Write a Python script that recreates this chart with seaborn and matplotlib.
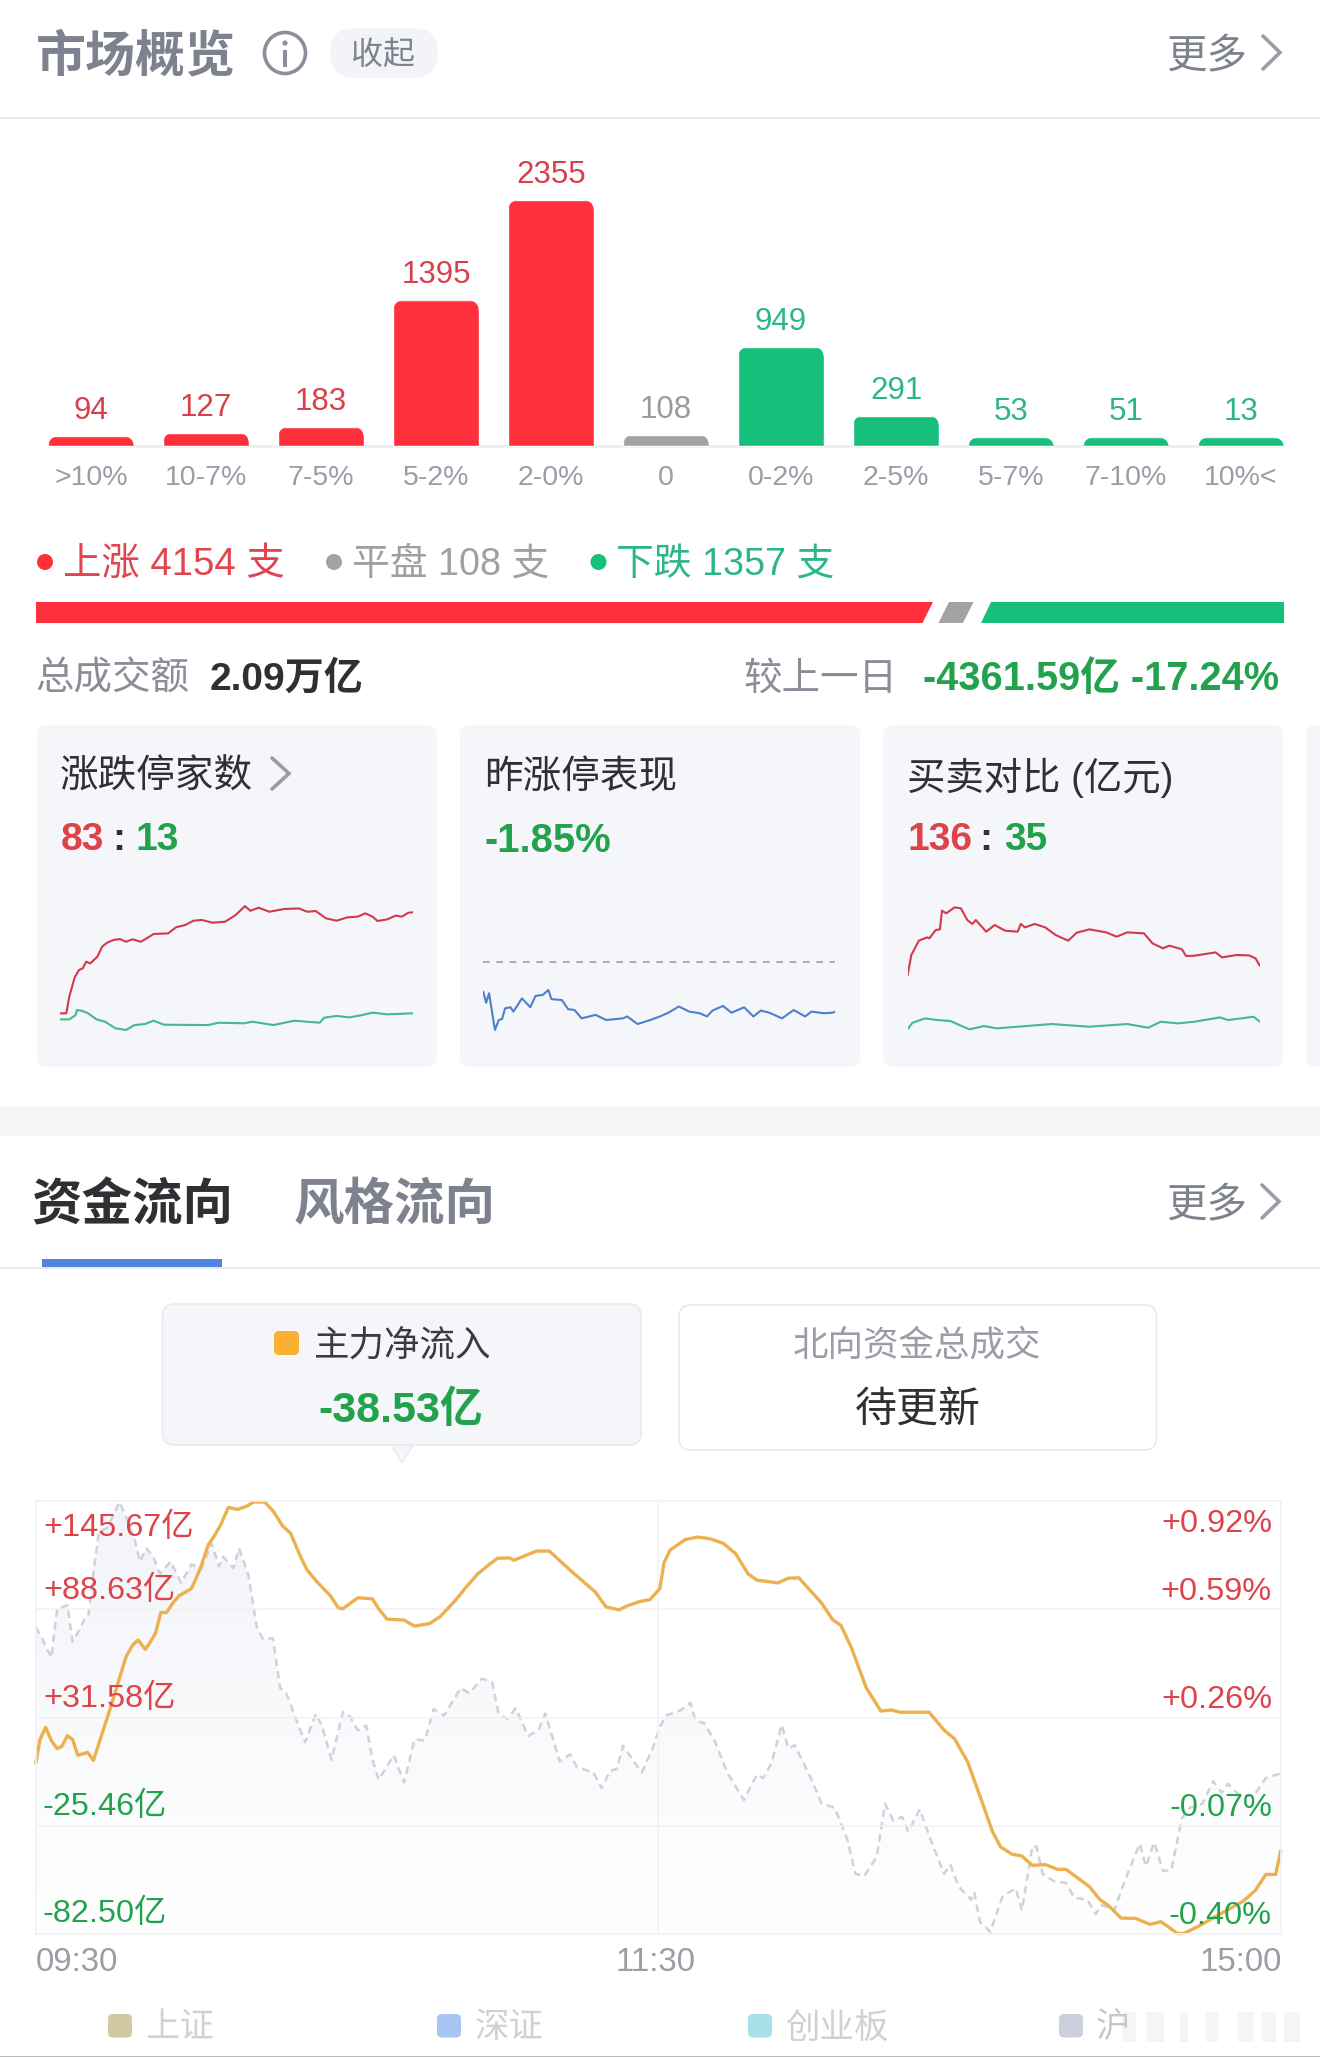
import matplotlib
matplotlib.use("Agg")
import numpy as np
import matplotlib.pyplot as plt
import seaborn as sns
from matplotlib.colors import LinearSegmentedColormap
from matplotlib.patches import Circle, FancyBboxPatch, Polygon, Rectangle

# ---- data ----
move_labels = [">10%", "10-7%", "7-5%", "5-2%", "2-0%", "0", "0-2%", "2-5%", "5-7%", "7-10%", "10%<"]
move_counts = [94, 127, 183, 1395, 2355, 108, 949, 291, 53, 51, 13]
breadth_counts = [4154, 108, 1357]

limit_up_t = [0, 4.3, 6.3, 10, 12.9, 15.5, 17.8, 20.6, 25.5, 28.7, 32.1, 36.4, 40.7, 45, 49.3, 55.1, 60.8, 63.7, 73.7, 78.9, 85.2, 90.9, 96.6, 103.8, 112.4, 119.6, 125.9, 129.6, 135.3, 142.5, 152.5, 162.6, 168.3, 174.1, 181.2, 188.4, 195.6, 202.7, 207.9, 212.8, 216.2, 222.8, 228.5, 232.8, 237.1, 240]
limit_up = [13, 13, 24.5, 37.9, 43, 44.2, 48.8, 47.6, 52.3, 59.2, 62, 63.8, 64.5, 62.6, 64.3, 62.6, 66.1, 68, 68.4, 72.6, 74.2, 77.2, 77.7, 75.8, 76.5, 81.1, 87.3, 84.1, 86.2, 83.4, 85.3, 85.7, 83.4, 83.9, 78.8, 77.2, 79.5, 80, 82.3, 80, 77, 78.1, 80.7, 80, 82.7, 83]
limit_down_t = [0, 6.3, 10.6, 11.5, 14.9, 19.2, 24.9, 30.7, 37.8, 45, 50.8, 57.9, 63.7, 70.8, 100.9, 108.1, 125.3, 131, 145.4, 159.7, 176.9, 179.8, 188.4, 197, 205.6, 212.8, 222.8, 240]
limit_down = [8.8, 8.8, 11.8, 15.3, 14.8, 13, 8.8, 7.2, 2.6, 1.5, 4.9, 5.6, 7.9, 5.1, 4.9, 6.5, 6.1, 7.2, 4.9, 7.9, 6.5, 10, 11.2, 10.2, 11.8, 13.5, 12.3, 13]

yday_t = [0, 2, 4, 8, 10.6, 12.9, 14.9, 18.6, 20.6, 26.4, 32.1, 35.6, 40.7, 44.4, 46.5, 53.6, 57.9, 62.2, 67.1, 76.6, 83.7, 95.2, 98.1, 105.2, 113.8, 120.4, 126.2, 133.3, 140.5, 147.7, 152.5, 156.3, 163.4, 169.2, 177.8, 184.1, 189.2, 195, 203.6, 211.6, 219.4, 223.7, 232.3, 238, 240]
yday_pct = [-1.11, -1.52, -1.17, -2.53, -2.16, -2.12, -1.73, -1.69, -1.85, -1.36, -1.69, -1.27, -1.23, -1.05, -1.39, -1.42, -1.76, -1.79, -2.10, -1.97, -2.16, -2.10, -2.03, -2.31, -2.16, -2.03, -1.89, -1.66, -1.85, -1.91, -2.03, -1.81, -1.64, -1.89, -1.69, -2.03, -1.81, -1.89, -2.10, -1.79, -2.03, -1.85, -1.91, -1.89, -1.85]

buy_t = [0, 2.6, 7.7, 13.5, 14.9, 19.2, 22.1, 23.5, 26.4, 32.1, 36.4, 40.7, 44.2, 46.5, 53.6, 59.4, 66.5, 75.1, 77.1, 80, 86.6, 93.8, 100.9, 109.5, 115.3, 123.9, 135.3, 142.5, 149.7, 161.1, 166.9, 174, 178.4, 187, 189.8, 195.6, 209.9, 214.2, 224.2, 232.8, 237.1, 240]
buy = [118, 155.2, 181.1, 187.1, 185.3, 200.3, 201.5, 235.2, 230.4, 241.2, 239.4, 218.4, 211.2, 218.4, 197.3, 209.3, 199.1, 197.3, 211.2, 205.1, 211.2, 205.1, 191.3, 181.1, 195.5, 201.5, 196.1, 188.3, 196.1, 194.3, 176.3, 167.3, 172.1, 165.5, 153.4, 154, 160, 151, 155.2, 154.6, 149.2, 136]
sell_t = [0, 3.4, 12, 20.6, 29.2, 42.2, 52.2, 60.8, 75.1, 98.1, 123.9, 149.7, 164, 172.6, 184.1, 195.6, 212.8, 218.5, 235.7, 240]
sell = [21.2, 33.2, 41, 38, 36.2, 21.2, 27.2, 23, 26, 30.8, 26, 30.8, 24.2, 35, 32, 35, 42.8, 38, 44, 35]

flow_t = [0, 0.8, 1.9, 3, 4.1, 5, 6.1, 7.1, 8.1, 10, 11.1, 13, 14.6, 16.2, 17.4, 18.7, 19.7, 21.1, 22.1, 23.1, 24.1, 25.2, 26.4, 27.6, 30, 31.6, 33.3, 34.5, 35.7, 37.1, 38.9, 40.6, 42, 44.1, 45.8, 47.6, 49.1, 51.1, 52.3, 54.4, 56.8, 58.3, 59.2, 62.1, 64.9, 66.1, 67.7, 71, 73, 75.9, 77.9, 80.7, 83.2, 85.2, 87.2, 89, 91.3, 92.2, 96.5, 99, 103.4, 107.9, 109.9, 112.4, 114, 116.4, 118.4, 120.3,
          121.1, 122.3, 125.2, 127.6, 130, 132.5, 134.9, 137.3, 139, 143, 145.1, 147.1, 151.5, 153.6, 155.2, 157.2, 160.1, 162.9, 164.9, 166.6, 172.2, 175.1, 177.1, 179.6, 182.8, 184.4, 186, 188.1, 190.1, 192.1, 194.6, 197, 198.6, 203.1, 205.1, 206.7, 209.2, 212, 214.8, 216.9, 220.1, 221.3, 223.8, 228.2, 232.7, 235.1, 237.1, 239, 240]
flow = [7.4, 20, 26.4, 19.4, 15.2, 16.3, 22, 20, 11.7, 13.2, 9, 24.9, 38.5, 53, 63.7, 69.9, 72.5, 67.6, 71.5, 76.3, 87, 87, 91.9, 95.8, 99.6, 109.4, 123, 127.8, 133.6, 142.4, 141.4, 143, 145.3, 145.3, 140.4, 132.6, 128.8, 116.1, 109.4, 102.6, 95.8, 89.5, 89, 94.8, 94.2, 89, 83.5, 83, 79.8, 81.2, 84.7, 92.8, 101.2, 107.4, 111.9, 115.6, 115.8, 114.6, 119.4, 119.4, 108.4, 97.7, 90, 88.4, 90.5, 92.8, 93.8, 99.6,
        113.2, 120, 125.5, 126.8, 125.9, 123.5, 118.1, 107.4, 104.1, 102.6, 105.1, 105.3, 91.9, 83.2, 80.2, 68.6, 47.2, 35, 35.6, 34.4, 34.4, 24.9, 20.4, 8.4, -15.9, -28.5, -36.7, -40.4, -41.5, -46.4, -46, -48.5, -48.5, -57.6, -64.4, -67.4, -74.2, -74.4, -77.5, -76.1, -82.4, -82.3, -79, -72.2, -65.4, -59.6, -51.2, -51.2, -38.53]

index_t = [0, 1.2, 3, 4.1, 6.1, 7.1, 8.1, 9.3, 10.1, 11.4, 12.2, 13.8, 16.1, 17.4, 19.1, 20.1, 21.3, 22.7, 23.9, 26, 28, 30, 32, 33.9, 35.3, 36.1, 38.1, 39.2, 41, 42.6, 43.8, 45.7, 47.1, 48.3, 49.9, 51.9, 54, 55.2, 57, 59.2, 60.4, 62.1, 63.7, 64.9, 66.1, 69, 71, 73, 75, 76.7, 78.7, 81.9, 83.6, 86, 88, 89.2, 90.9, 92.5, 94.9, 96.9, 98.2, 101, 103, 104.3, 107.5, 109.1, 110.7, 112, 113.2, 116.8, 118.9, 120.3,
           121.5, 124.4, 126.2, 127.2, 128.8, 130.9, 133.3, 136.5, 139, 140.2, 141.8, 143.8, 145.1, 146.3, 149.1, 151.5, 154, 156.4, 158, 159.7, 162.1, 163.7, 165.3, 167, 168.2, 170.4, 172.7, 175.1, 176.3, 177.9, 180.3, 180.9, 182, 184, 186.4, 188.9, 190.1, 192.1, 192.9, 194.1, 196.2, 198.6, 200.2, 202.7, 204.3, 205.5, 207.9, 209.9, 212.8, 214, 215.6, 217.3, 218.9, 220.9, 222.5, 224.9, 227, 228.6, 229.8, 231.9, 234.7, 237.1, 240]
index_pct = [.536, .502, .443, .592, .603, .491, .519, .558, .569, .738, .828, .839, .918, .873, .800, .736, .777, .749, .699, .736, .671, .727, .716, .792, .721, .751, .716, .777, .693, .536, .499, .502, .350, .334, .266, .185, .272, .232, .131, .277, .266, .221, .235, .131, .070, .145, .062, .193, .190, .286, .266, .350, .334, .379, .367, .272, .255, .289, .204, .221, .272, .126, .148, .109, .092, .044, .098, .103, .174, .092, .165, .232,
             .266, .283, .305, .249, .244, .188, .092, .008, .086, .075, .120, .238, .165, .176, .086, -.003, -.015, -.110, -.217, -.223, -.166, -.003, -.054, -.043, -.088, -.020, -.121, -.217, -.189, -.256, -.296, -.273, -.363, -.394, -.284, -.262, -.329, -.133, -.133, -.217, -.239, -.245, -.290, -.296, -.340, -.312, -.329, -.239, -.125, -.194, -.121, -.208, -.206, -.048, -.015, -.003, .066, .030, .058, .025, .019, .075, .090]

flow_ticks = ["+145.67亿", "+88.63亿", "+31.58亿", "-25.46亿", "-82.50亿"]
flow_tick_values = [145.67, 88.63, 31.58, -25.46, -82.50]
pct_ticks = ["+0.92%", "+0.59%", "+0.26%", "-0.07%", "-0.40%"]
legend_names = ["上证", "深证", "创业板"]

RED = "#ff2f3c"
GREEN = "#17c07a"
GREY = "#a3a3a3"
TXT_RED = "#dd4349"
TXT_GREEN = "#22a24d"
DARK = "#2f3033"
MUTED = "#7e828e"
SOFT = "#9a9ca6"
CARD = "#f5f6f9"
LINE = "#e9eaec"

W, H = 1320, 2057

sns.set_theme(style="white")
plt.rcParams["font.family"] = ["Liberation Sans", "Noto Sans CJK SC", "DejaVu Sans"]

fig = plt.figure(figsize=(W / 100, H / 100), dpi=100, facecolor="white")


def px_axes(x0, y0, x1, y1, z=1):
    ax = fig.add_axes([x0 / W, 1 - y1 / H, (x1 - x0) / W, (y1 - y0) / H], zorder=z)
    ax.patch.set_alpha(0)
    return ax


ui = px_axes(0, 0, W, H, 0)
ui.set_xlim(0, W)
ui.set_ylim(H, 0)
ui.axis("off")
top = px_axes(0, 0, W, H, 5)
top.set_xlim(0, W)
top.set_ylim(H, 0)
top.axis("off")


def txt(x, y, s, px, color, ha="left", weight="normal", ax=ui):
    return ax.text(x, y + 2.5, s, fontsize=px * 0.72, color=color, ha=ha, va="center", fontweight=weight)


def box(x0, y0, x1, y1, fc, ec="none", r=10, lw=0, z=1):
    ui.add_patch(FancyBboxPatch((x0, y0), x1 - x0, y1 - y0, boxstyle=f"round,pad=0,rounding_size={r}",
                                fc=fc, ec=ec, lw=lw, zorder=z))


def chevron(x0, x1, y0, y1, color="#9a9da8", lw=2.6):
    ui.plot([x0, x1, x0], [y0, (y0 + y1) / 2, y1], color=color, lw=lw, solid_joinstyle="miter")


# ---- header ----
txt(36, 55, "市场概览", 50, MUTED, weight="bold")
ui.add_patch(Circle((285, 53), 20.5, fc="none", ec="#8b8f9b", lw=2.6))
ui.add_patch(Rectangle((283, 50), 4, 17, fc="#8b8f9b", ec="none"))
ui.add_patch(Circle((285, 43), 2.6, fc="#8b8f9b", ec="none"))
box(330, 28, 438, 78, "#f2f4f8", r=25)
txt(383, 53, "收起", 32, MUTED, ha="center")
txt(1166, 55, "更多", 40.5, MUTED, weight="medium")
chevron(1263, 1280, 36, 69)
ui.plot([0, W], [118, 118], color=LINE, lw=1.4)

# ---- distribution bars ----
ax_bar = px_axes(33.5, 120, 1298.5, 446)
bar_heights = np.maximum(move_counts, 83)
bar_colors = [RED] * 5 + [GREY] + [GREEN] * 5
sns.barplot(x=move_labels, y=bar_heights, hue=move_labels, palette=bar_colors, legend=False,
            width=0.748, saturation=1, ax=ax_bar)
ax_bar.set_xlim(-0.5, 10.5)
ax_bar.set_ylim(0, 326 * 2355 / 246)
ax_bar.patch.set_alpha(0)
sns.despine(ax=ax_bar, left=True, bottom=True)
ax_bar.set_yticks([])
ax_bar.axhline(0, xmin=0.012, xmax=0.988, color="#eceef1", lw=2, zorder=0, clip_on=False)
ax_bar.tick_params(axis="x", length=0, pad=13.5, labelsize=20.5, labelcolor=SOFT)
label_colors = ["#d8404c"] * 5 + ["#9a9a9a"] + ["#2db685"] * 5
# the seaborn bars get round tops from a clip path laid out in the ui pixel axes
to_ui = ax_bar.transData + ui.transData.inverted()
for bar, count, color in zip(ax_bar.patches, move_counts, label_colors):
    (x0, y_base), (x1, y_top) = to_ui.transform([(bar.get_x(), 0), (bar.get_x() + bar.get_width(), bar.get_height())])
    rounded = FancyBboxPatch((x0, y_top), x1 - x0, y_base - y_top + 20,
                             boxstyle="round,pad=0,rounding_size=12", transform=ui.transData)
    bar.set_clip_on(True)
    bar.set_clip_box(None)
    bar.set_clip_path(rounded)
    ax_bar.annotate(str(count), (bar.get_x() + bar.get_width() / 2, bar.get_height()),
                    xytext=(0, 25 * 0.72), textcoords="offset points", ha="center", va="center",
                    fontsize=22.5, color=color)

# ---- breadth row ----
for dot_x, color in zip([45, 334, 598.5], [RED, GREY, GREEN]):
    ui.add_patch(Circle((dot_x, 562), 8, fc=color, ec="none"))
txt(63, 562, "上涨 4154 支", 38.4, "#e04550")
txt(352, 562, "平盘 108 支", 37.8, "#a0a0a0")
txt(616, 562, "下跌 1357 支", 37.8, "#2db685")

up, flat, down = breadth_counts
red_w = 1190 * up / (up + down)
grey_x = 36 + red_w + 16
slant = 10.5
ui.add_patch(Polygon([(36, 602), (36 + red_w, 602), (36 + red_w - slant, 623), (36, 623)], fc=RED, ec="none"))
ui.add_patch(Polygon([(grey_x, 602), (grey_x + 24.5, 602), (grey_x + 24.5 - slant, 623), (grey_x - slant, 623)], fc=GREY, ec="none"))
ui.add_patch(Polygon([(grey_x + 42.5, 602), (1284, 602), (1284, 623), (grey_x + 42.5 - slant, 623)], fc=GREEN, ec="none"))

txt(35, 677, "总成交额", 38.5, "#8a8d98")
txt(210, 677, "2.09万亿", 39, DARK, weight="bold")
txt(743, 677, "较上一日", 38.5, "#8a8d98")
txt(1279, 677, "-4361.59亿 -17.24%", 39.8, TXT_GREEN, ha="right", weight="bold")

# ---- small cards ----
for x0, x1 in [(37, 436.5), (460, 860), (883.5, 1283), (1306, 1340)]:
    box(x0, 725, x1, 1067, CARD, r=10)
txt(60, 775, "涨跌停家数", 38.6, DARK, weight="medium")
chevron(272, 289, 758, 789)
txt(484, 775, "昨涨停表现", 38.6, DARK, weight="medium")
txt(907, 775, "买卖对比 (亿元)", 38.4, DARK, weight="medium")
txt(61, 838, "83", 39, TXT_RED, weight="bold")
txt(119, 838, ":", 39, DARK, ha="center", weight="bold")
txt(135, 838, "13", 39, TXT_GREEN, weight="bold")
txt(485, 838, "-1.85%", 40, TXT_GREEN, weight="bold")
txt(908, 838, "136", 39, TXT_RED, weight="bold")
txt(986, 838, ":", 39, DARK, ha="center", weight="bold")
txt(1004, 838, "35", 39, TXT_GREEN, weight="bold")

SPARK_RED = "#d13a4b"
SPARK_GREEN = "#43b98d"
SPARK_BLUE = "#4f7fcc"


def spark(x0, x1, ylim, series):
    ax = px_axes(x0, 880, x1, 1050)
    for t, v, color in series:
        sns.lineplot(x=t, y=v, color=color, lw=1.5, estimator=None, sort=False, errorbar=None, ax=ax)
    ax.set_xlim(0, 240)
    ax.set_ylim(*ylim)
    ax.patch.set_alpha(0)
    ax.axis("off")
    return ax


spark(60, 412.5, (-12.4, 105.4), [(limit_down_t, limit_down, SPARK_GREEN), (limit_up_t, limit_up, SPARK_RED)])
ax_yday = spark(483.2, 835.4, (-3.27, 3.02), [(yday_t, yday_pct, SPARK_BLUE)])
ax_yday.axhline(0, color="#9da0a8", lw=1.2, dashes=(4, 4))
spark(907.5, 1259.8, (-16, 290.5), [(sell_t, sell, SPARK_GREEN), (buy_t, buy, SPARK_RED)])

# ---- second section ----
ui.add_patch(Rectangle((0, 1106), W, 30, fc="#f5f6f8", ec="none"))
txt(31, 1204, "资金流向", 50.5, DARK, weight="bold")
txt(294, 1204, "风格流向", 50.5, MUTED, weight="bold")
txt(1166, 1204, "更多", 40.5, MUTED, weight="medium")
chevron(1262, 1279, 1185, 1218)
ui.add_patch(Rectangle((42, 1259), 180, 8, fc="#4f84e0", ec="none", zorder=3))
ui.plot([0, W], [1268, 1268], color=LINE, lw=1.4)

ui.add_patch(Polygon([(391, 1445), (413, 1445), (402, 1463)], fc=CARD, ec="#e8eaee", lw=1))
box(162.5, 1304, 641, 1445, CARD, ec="#e8eaee", lw=1.2, r=12)
box(679, 1305, 1156.5, 1450, "white", ec="#e8eaee", lw=1.2, r=12)
box(274, 1331, 299, 1355, "#fbb034", r=5)
txt(313, 1343, "主力净流入", 35.5, "#3a3b3e", weight="medium")
txt(401, 1408, "-38.53亿", 43, TXT_GREEN, ha="center", weight="bold")
txt(917, 1343, "北向资金总成交", 35.5, SOFT, ha="center")
txt(918, 1408, "待更新", 42, DARK, ha="center", weight="medium")

# ---- flow chart ----
ax_flow = px_axes(35.8, 1501.3, 1280.8, 1933.8, 2)
ax_pct = ax_flow.twinx()
ax_flow.set_zorder(ax_pct.get_zorder() + 1)
ax_flow.patch.set_visible(False)
ax_pct.set_zorder(1)

fill = ax_pct.fill_between(index_t, index_pct, -0.40, color="none")
shade = LinearSegmentedColormap.from_list("shade", ["#f3f4f9", "#ffffff"])
grad = ax_pct.imshow(np.linspace(0, 1, 256).reshape(-1, 1), cmap=shade, aspect="auto",
                     extent=(0, 240, -0.40, 0.92), origin="upper", zorder=0)
grad.set_clip_path(fill.get_paths()[0], transform=ax_pct.transData)
sns.lineplot(x=index_t, y=index_pct, color="#cfd1dc", lw=1.8, estimator=None, sort=False, errorbar=None,
             dashes=(3, 2), ax=ax_pct)
ax_pct.set_ylim(-0.40, 0.92)
ax_pct.set_yticks([])
ax_pct.set_ylabel("")

sns.lineplot(x=flow_t, y=flow, color="#edb04f", lw=2.4, estimator=None, sort=False, errorbar=None,
             ax=ax_flow, clip_on=False)
ax_flow.set_xlim(0, 240)
ax_flow.set_ylim(-82.50, 145.67)
ax_flow.set_yticks(flow_tick_values)
ax_flow.set_xticks([120])
ax_flow.tick_params(length=0, labelleft=False, labelbottom=False)
ax_flow.grid(True, color="#f1f2f4", lw=1.2)
for side in ax_flow.spines.values():
    side.set_color("#f1f2f4")
    side.set_linewidth(1.2)
for side in ax_pct.spines.values():
    side.set_visible(False)

for label, y, value in zip(flow_ticks, [1525, 1588, 1696, 1804, 1911], flow_tick_values):
    txt(43, y, label, 32.4, TXT_RED if value > 0 else TXT_GREEN, ax=top)
for label, y in zip(pct_ticks, [1522, 1590, 1698, 1806, 1913]):
    txt(1272, y, label, 32.5, TXT_RED if label[0] == "+" else TXT_GREEN, ha="right", ax=top)
txt(36, 1960, "09:30", 33, SOFT)
txt(656, 1960, "11:30", 33, SOFT, ha="center")
txt(1282, 1960, "15:00", 33, SOFT, ha="right")

# ---- legend strip ----
for x0, color, name, text_x in zip([108, 437, 748], ["#d1c9a0", "#a8c4f3", "#a8e0ea"], legend_names, [145, 475, 785]):
    box(x0, 2014, x0 + 24, 2037.5, color, r=5)
    txt(text_x, 2026, name, 34.5, "#cfd1d6")
box(1059, 2014, 1083, 2037.5, "#cccede", r=5)
cut = txt(1096, 2026, "沪", 34.5, "#c6c8ce")
cut.set_clip_path(Rectangle((1090, 2005), 22, 42, transform=ui.transData))
for x0, wide in zip([1122, 1146, 1180, 1206, 1238, 1262, 1284], [14, 18, 8, 12, 16, 14, 16]):
    ui.add_patch(Rectangle((x0, 2012), wide, 30, fc="#e3e4e8", ec="none", alpha=0.35))
ui.add_patch(Rectangle((0, 2055.5), W, 1.5, fc="#b9babd", ec="none"))

fig.savefig("out.png", dpi=100)
